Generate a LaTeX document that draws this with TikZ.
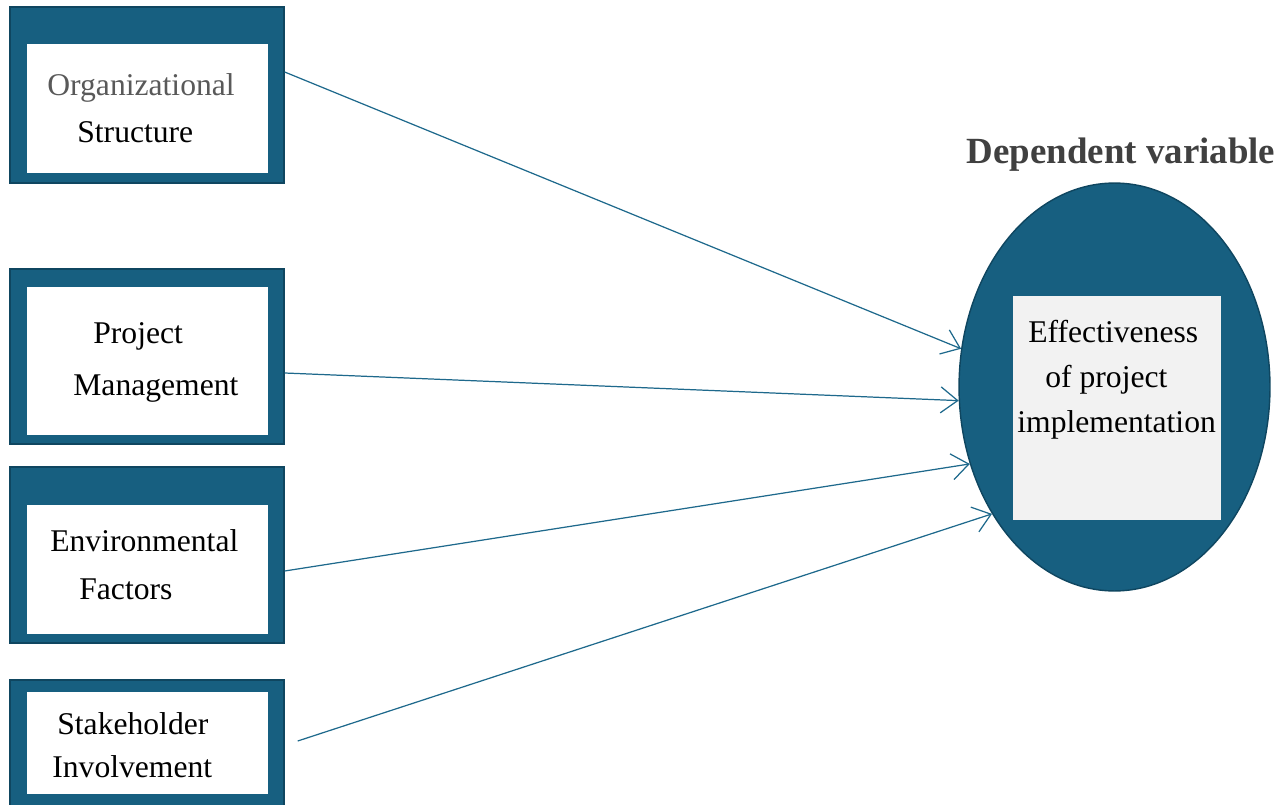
\documentclass[tikz,border=0pt]{standalone}
\usepackage{fontspec}
\setmainfont{Liberation Serif}
\usetikzlibrary{positioning,arrows.meta,shapes.geometric}
\definecolor{framecol}{RGB}{23,95,128}
\definecolor{edgecol}{RGB}{15,70,96}
\definecolor{arrcol}{RGB}{30,105,140}
\definecolor{panelcol}{RGB}{242,242,242}
\definecolor{greytxt}{RGB}{89,89,89}
\definecolor{titlecol}{RGB}{64,64,64}

\begin{document}
\begin{tikzpicture}[
  x=0.02cm, y=-0.02cm,
  every node/.style={font=\fontsize{18}{21}\selectfont},
  %% dark outer frame of an input block
  frame/.style={
    draw=edgecol, fill=framecol, line width=0.8pt,
    minimum width=5.48cm, minimum height=#1,
    inner sep=0pt
  },
  frame/.default=3.52cm,
  %% white panel inside a frame
  panel/.style={
    fill=white, draw=none,
    minimum width=4.82cm, minimum height=#1,
    inner sep=0pt
  },
  panel/.default=2.58cm,
  %% one line of text, placed on its baseline
  txt/.style={anchor=base west, inner sep=0pt},
  %% thin arrows with open heads
  arr/.style={-{Straight Barb[length=0.34cm,width=0.52cm,line width=0.7pt]}, line width=0.7pt, color=arrcol},
]
\useasboundingbox (0,0) rectangle (1283,804);

%%── Input blocks (left column) ──────────────────────────────────────────────
\node[frame]            (b1)  at (147,95)    {};
\node[panel]            (p1)  at (147.5,108.5) {};
\node[txt,text=greytxt] (t1a) at (47,96)     {Organizational};
\node[txt]              (t1b) at (77,143)    {Structure};

\node[frame=3.50cm]     (b2)  at (147,356.5) {};
\node[panel=2.96cm]     (p2)  at (147.5,361) {};
\node[txt]              (t2a) at (93,343)    {Project};
\node[txt]              (t2b) at (73,395)    {Management};

\node[frame]            (b3)  at (147,555)   {};
\node[panel]            (p3)  at (147.5,569.5) {};
\node[txt]              (t3a) at (50,551)    {Environmental};
\node[txt]              (t3b) at (79,599)    {Factors};

\node[frame=2.52cm]     (b4)  at (147,743)   {};
\node[panel=2.04cm]     (p4)  at (147.5,743) {};
\node[txt]              (t4a) at (57,734)    {Stakeholder};
\node[txt]              (t4b) at (52,777)    {Involvement};

%%── Dependent variable (right) ───────────────────────────────────────────────
\node[font=\fontsize{21}{24}\selectfont\bfseries, text=titlecol,
      anchor=base, inner sep=0pt] (dv) at (1121,164) {Dependent variable};

\node[ellipse, draw=edgecol, fill=framecol, line width=0.8pt,
      minimum width=6.22cm, minimum height=8.16cm, inner sep=0pt] (el)
  at (1114.5,387) {};
\node[fill=panelcol, minimum width=4.16cm, minimum height=4.48cm,
      inner sep=0pt] (pe) at (1117,408) {};
\node[txt] (te1) at (1028,342) {Effectiveness};
\node[txt] (te2) at (1045,387) {of project};
\node[txt] (te3) at (1017,432) {implementation};

%%── Arrows: input blocks → ellipse ──────────────────────────────────────────
\draw[arr] ([yshift=0.46cm]b1.east)              -- (el.166);
\draw[arr] ([yshift=-0.33cm]b2.east)             -- (el.185.7);
\draw[arr] ([yshift=-0.32cm]b3.east)             -- (el.208);
\draw[arr] ([xshift=0.26cm,yshift=0.04cm]b4.east) -- (el.226);

\end{tikzpicture}
\end{document}
